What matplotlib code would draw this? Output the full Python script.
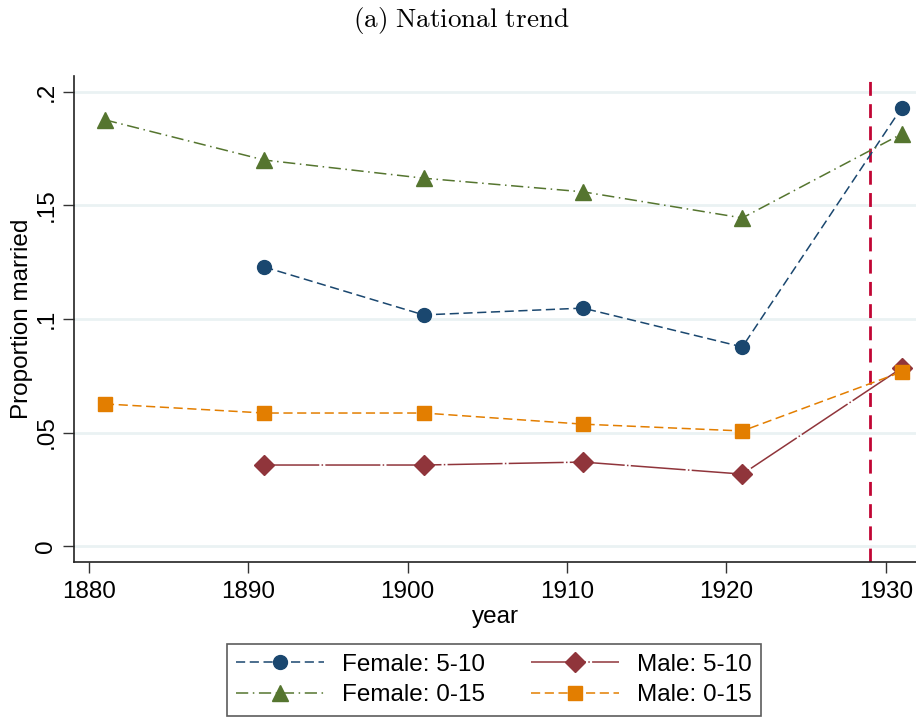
import matplotlib
matplotlib.use("Agg")
import matplotlib.pyplot as plt

plt.rcParams['font.family'] = ['Liberation Sans', 'DejaVu Sans']
plt.rcParams['mathtext.fontset'] = 'cm'

# census years and proportion married by group
years = [1881, 1891, 1901, 1911, 1921, 1931]
female_5_10 = [None, 0.1229, 0.1018, 0.1048, 0.0877, 0.1930]
male_5_10 = [None, 0.0357, 0.0357, 0.0370, 0.0317, 0.0784]
female_0_15 = [0.1877, 0.1700, 0.1620, 0.1560, 0.1445, 0.1815]
male_0_15 = [0.0626, 0.0586, 0.0586, 0.0537, 0.0507, 0.0767]
cutoff_year = 1929

yticks = [0, 0.05, 0.1, 0.15, 0.2]
ytick_labels = ['0', '.05', '.1', '.15', '.2']
xticks = [1880, 1890, 1900, 1910, 1920, 1930]


def pairs(xs, ys):
    pts = [(x, y) for x, y in zip(xs, ys) if y is not None]
    return [p[0] for p in pts], [p[1] for p in pts]


fig = plt.figure(figsize=(9.16, 7.2), dpi=100)
ax = fig.add_axes([74 / 916, 1 - 562 / 720, 842 / 916, 486 / 720])

for yt in yticks:
    ax.axhline(yt, color='#eaf2f3', lw=2, zorder=0)

x, y = pairs(years, female_5_10)
f510, = ax.plot(x, y, color='#1a476f', ls=(0, (6, 3)), lw=1.1, marker='o', ms=10,
                label='Female: 5-10')
x, y = pairs(years, male_5_10)
m510, = ax.plot(x, y, color='#90353b', ls=(0, (36, 1.5, 1, 1.5)), lw=1.1,
                marker='D', ms=10, label='Male: 5-10')
x, y = pairs(years, female_0_15)
f015, = ax.plot(x, y, color='#55752f', ls=(0, (8, 3, 1, 3)), lw=1.1, marker='^',
                ms=11, label='Female: 0-15')
x, y = pairs(years, male_0_15)
m015, = ax.plot(x, y, color='#e37e00', ls=(0, (6, 3)), lw=1.1, marker='s', ms=10,
                label='Male: 0-15')

ax.axvline(cutoff_year, color='#c10534', ls=(0, (5, 3)), lw=2, zorder=1)

ax.set_xlim(1879.06, 1931.9)
ax.set_ylim(-0.007, 0.207)
ax.set_xticks(xticks)
ax.set_yticks(yticks)
ax.set_yticklabels(ytick_labels, rotation=90, va='center')
ax.tick_params(axis='both', labelsize=17.5, length=8, width=1, direction='out',
               color='#333333')
ax.tick_params(axis='x', pad=6)
ax.tick_params(axis='y', pad=4)
for side in ['top', 'right']:
    ax.spines[side].set_visible(False)
for side in ['left', 'bottom']:
    ax.spines[side].set_color('#222222')
    ax.spines[side].set_linewidth(1.2)

ax.set_xlabel('year', fontsize=17.5, labelpad=2)
ax.set_ylabel('Proportion married', fontsize=17.5, labelpad=2)

fig.text(0.503, 1 - 20 / 720, r'$\mathrm{(a)\ National\ trend}$', fontsize=19.5,
         ha='center', va='center')

# two columns filled row by row: females on the left, males on the right
leg = fig.legend(handles=[f510, f015, m510, m015], loc='center',
                 bbox_to_anchor=(494 / 916, 1 - 680 / 720), ncol=2,
                 fontsize=17.5, frameon=True, fancybox=False, handlelength=3.6,
                 columnspacing=1.9, handletextpad=0.75, borderpad=0.4,
                 labelspacing=0.35)
leg.get_frame().set_edgecolor('#333333')
leg.get_frame().set_linewidth(1.2)

fig.savefig('out.png', dpi=100)
